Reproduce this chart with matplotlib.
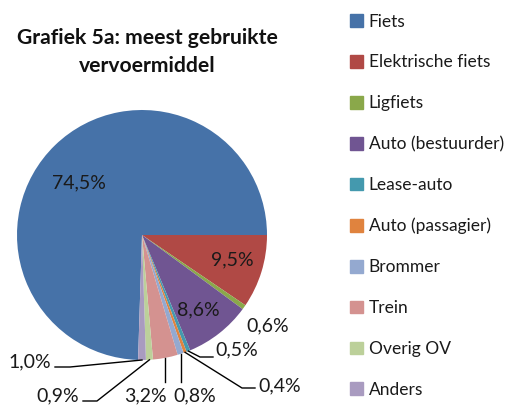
import matplotlib.pyplot as plt
import matplotlib.patches as mpatches
import numpy as np

categories = ['Fiets', 'Elektrische fiets', 'Ligfiets', 'Auto (bestuurder)', 'Lease-auto',
              'Auto (passagier)', 'Brommer', 'Trein', 'Overig OV', 'Anders']
values = [74.5, 9.5, 0.6, 8.6, 0.5, 0.4, 0.8, 3.2, 0.9, 1.0]
colors = ['#4672a8', '#b04945', '#8aa84a', '#705592', '#4499ae',
          '#e0833e', '#94a9d0', '#d49290', '#bcd09a', '#a99bc0']

plt.rcParams['font.family'] = ['Lato', 'DejaVu Sans']

W, H = 519, 409
fig = plt.figure(figsize=(W / 100, H / 100), dpi=100)

# pie centre and radius in pixels (from the top left)
cx, cy, R = 142, 235, 125
ax = fig.add_axes([(cx - R) / W, (H - cy - R) / H, 2 * R / W, 2 * R / H])
ax.set_aspect('equal')
ax.axis('off')

total = sum(values)
start = 360 * values[0] / total  # first slice ends at 3 o'clock
wedges, _ = ax.pie(values, colors=colors, startangle=start, counterclock=False,
                   radius=1, center=(0, 0), frame=False,
                   wedgeprops=dict(linewidth=0))
ax.set_xlim(-1, 1)
ax.set_ylim(-1, 1)


def px(x, y):
    return ((x - cx) / R, (cy - y) / R)


def labeltext(v):
    return f'{v:.1f}'.replace('.', ',') + '%'


# label centres in pixels, plus leader line points (None = no leader line)
label_pos = {
    0: ((79, 183), None),
    1: ((232, 260), None),
    2: ((268, 326), None),
    3: ((198, 310), None),
    4: ((237, 350), [(200, 357), (213, 357)]),
    5: ((280, 386), [(242, 388), (255, 388)]),
    6: ((195, 396), [(180, 382)]),
    7: ((145, 396), [(163, 382)]),
    8: ((58, 396), [(97, 401), (83, 401)]),
    9: ((30, 362), [(70, 367), (55, 367)]),
}

for i, w in enumerate(wedges):
    (tx, ty), elbow = label_pos[i]
    ax.text(*px(tx, ty), labeltext(values[i]), ha='center', va='center', fontsize=14,
            color='#1a1a1a')
    if elbow:
        mid = np.deg2rad((w.theta1 + w.theta2) / 2)
        pts = [(np.cos(mid), np.sin(mid))]
        if i in (6, 7):
            # straight down from the slice
            pts.append((np.cos(mid), (cy - elbow[0][1]) / R))
        else:
            pts += [px(*p) for p in elbow]
        xs, ys = zip(*pts)
        ax.plot(xs, ys, color='black', lw=1, clip_on=False)

fig.text(147 / W, 1 - 52 / H, 'Grafiek 5a: meest gebruikte\nvervoermiddel', ha='center',
         va='center', fontsize=15.2, fontweight='bold', linespacing=1.5, color='#111111')

handles = [mpatches.Patch(color=c, label=l) for c, l in zip(colors, categories)]
fig.legend(handles=handles, loc='upper left', bbox_to_anchor=(334 / W, 1 + 2 / H),
           frameon=False, fontsize=12.5, labelspacing=1.43, handlelength=0.75,
           handleheight=0.75, handletextpad=0.35, labelcolor='#1a1a1a')

fig.savefig('out.png', dpi=100)
